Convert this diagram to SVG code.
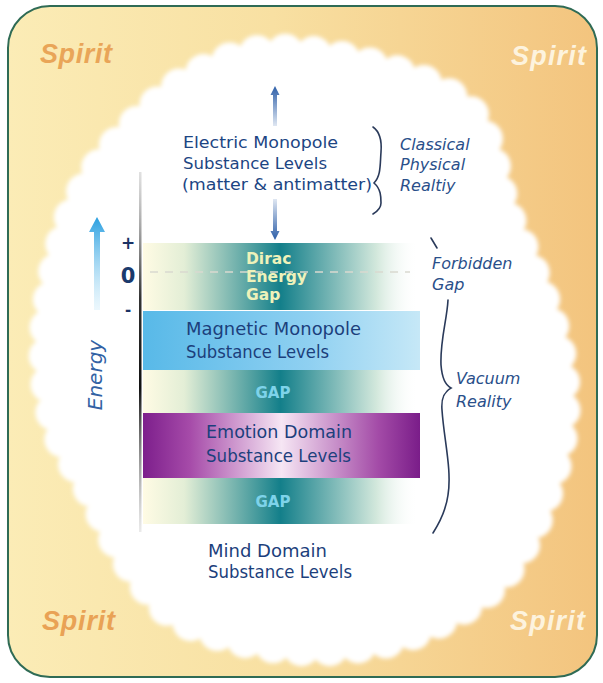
<svg xmlns="http://www.w3.org/2000/svg" width="603" height="683" viewBox="0 0 603 683">
<defs>
<linearGradient id="bg" x1="0" y1="0" x2="1" y2="0">
<stop offset="0" stop-color="#fbecb6"/><stop offset="0.45" stop-color="#f8e0a2"/><stop offset="1" stop-color="#f3c47e"/>
</linearGradient>
<linearGradient id="teal" x1="0" y1="0" x2="1" y2="0">
<stop offset="0" stop-color="#fffbe4"/><stop offset="0.15" stop-color="#e3eed6"/><stop offset="0.5" stop-color="#137f8a"/><stop offset="0.85" stop-color="#d3e8dc"/><stop offset="1" stop-color="#ffffff" stop-opacity="0"/>
</linearGradient>
<linearGradient id="blue" x1="0" y1="0" x2="1" y2="0">
<stop offset="0" stop-color="#58b9e8"/><stop offset="0.6" stop-color="#8fd0f1"/><stop offset="1" stop-color="#c6e8f7"/>
</linearGradient>
<linearGradient id="purple" x1="0" y1="0" x2="1" y2="0">
<stop offset="0" stop-color="#7d1f8c"/><stop offset="0.17" stop-color="#a64ba9"/><stop offset="0.5" stop-color="#f6e6f4"/><stop offset="0.85" stop-color="#a34ba7"/><stop offset="1" stop-color="#7a1d89"/>
</linearGradient>
<linearGradient id="axis" x1="0" y1="0" x2="0" y2="1">
<stop offset="0" stop-color="#9a9a9a" stop-opacity="0.3"/><stop offset="0.35" stop-color="#333"/><stop offset="0.6" stop-color="#111"/><stop offset="1" stop-color="#999" stop-opacity="0.2"/>
</linearGradient>
<linearGradient id="earrow" x1="0" y1="0" x2="0" y2="1">
<stop offset="0" stop-color="#2a9fe0"/><stop offset="1" stop-color="#bfe6f8" stop-opacity="0.3"/>
</linearGradient>
<linearGradient id="upfade" x1="0" y1="0" x2="0" y2="1">
<stop offset="0" stop-color="#2c5ea8"/><stop offset="1" stop-color="#2c5ea8" stop-opacity="0.15"/>
</linearGradient>
<linearGradient id="downfade" x1="0" y1="0" x2="0" y2="1">
<stop offset="0" stop-color="#2c5ea8" stop-opacity="0.15"/><stop offset="1" stop-color="#2c5ea8"/>
</linearGradient>
<filter id="soft" x="-10%" y="-10%" width="120%" height="120%"><feGaussianBlur stdDeviation="2"/></filter>
<style>
.spirit{font-family:"Liberation Sans",Arial,sans-serif;font-weight:bold;font-style:italic;font-size:27px}
.lbl{font-family:"DejaVu Sans",sans-serif;font-size:17px;fill:#1c3f7c}
.el{font-family:"DejaVu Sans",sans-serif;font-size:16px;fill:#1c4583}
.ital{font-family:"DejaVu Sans",sans-serif;font-style:italic;font-size:16px;fill:#2a4f8a}
.gap{font-family:"DejaVu Sans",sans-serif;font-weight:bold;font-size:15px;fill:#7ed3ea;text-anchor:middle}
.brace{fill:none;stroke:#2a3a5a;stroke-width:1.6;stroke-linecap:round}
</style>
</defs>
<g id="background">
<rect x="8" y="6" width="589" height="671" rx="42" fill="url(#bg)" stroke="#2f6b55" stroke-width="2"/>
<g filter="url(#soft)">
<path d="M342,59 Q412,74 444,93 Q476,112 484,136 Q492,160 497,184 Q502,208 513.5,232 Q525,256 534.5,279.5 Q544,303 551.5,327 Q559,351 561.5,375.5 Q564,400 561.5,424 Q559,448 552,472 Q545,496 535,519.5 Q525,543 508.5,566.5 Q492,590 461,608.5 Q430,627 402.5,636 Q375,645 332.5,648 Q290,651 237.5,638.5 Q185,626 166,607 Q147,588 131,564 Q115,540 104,515 Q93,490 76.5,465 Q60,440 54,415 Q48,390 47,365 Q46,340 48.5,317.5 Q51,295 56,272.5 Q61,250 68,228 Q75,206 89.5,182 Q104,158 126,135 Q148,112 170,93.5 Q192,75 232,59.5 Q272,44 342,59 Z" pathLength="62" fill="#ffffff" stroke="#ffffff" stroke-width="36" stroke-dasharray="0 1" stroke-linecap="round"/>
</g>
</g>
<g id="spirit-labels">
<text class="spirit" x="40" y="63" fill="#e9a558" textLength="72">Spirit</text>
<text class="spirit" x="511" y="65" fill="#fdf3de" textLength="75">Spirit</text>
<text class="spirit" x="42" y="630" fill="#e9a255" textLength="73">Spirit</text>
<text class="spirit" x="510" y="630" fill="#fdf3de" textLength="75">Spirit</text>
</g>
<g id="bands">
<g id="dirac-gap"><rect x="143" y="243" width="275" height="67" fill="url(#teal)"/>
<line x1="150" y1="272" x2="410" y2="272" stroke="#d9d9cf" stroke-width="1.5" stroke-dasharray="8 7"/>
<text font-family="DejaVu Sans,sans-serif" font-weight="bold" font-size="15.5" fill="#eef2ba"><tspan x="246" y="264">Dirac</tspan><tspan x="246" y="282">Energy</tspan><tspan x="246" y="300">Gap</tspan></text></g>
<g id="magnetic"><rect x="143" y="311" width="277" height="59" fill="url(#blue)"/>
<text class="lbl" x="186" y="335" textLength="175" lengthAdjust="spacingAndGlyphs">Magnetic Monopole</text>
<text class="lbl" x="186" y="358" textLength="143" lengthAdjust="spacingAndGlyphs">Substance Levels</text></g>
<g id="gap1"><rect x="143" y="370" width="275" height="43" fill="url(#teal)"/><text class="gap" x="273" y="398">GAP</text></g>
<g id="emotion"><rect x="143" y="413" width="277" height="65" fill="url(#purple)"/>
<text class="lbl" x="206" y="438" textLength="146" lengthAdjust="spacingAndGlyphs">Emotion Domain</text>
<text class="lbl" x="206" y="462" textLength="145" lengthAdjust="spacingAndGlyphs">Substance Levels</text></g>
<g id="gap2"><rect x="143" y="478" width="275" height="46" fill="url(#teal)"/><text class="gap" x="273" y="507">GAP</text></g>
<g id="mind">
<text class="lbl" x="208" y="557" textLength="119" lengthAdjust="spacingAndGlyphs">Mind Domain</text>
<text class="lbl" x="208" y="578" textLength="144" lengthAdjust="spacingAndGlyphs">Substance Levels</text></g>
<g id="electric">
<text class="el" x="183" y="148" textLength="155" lengthAdjust="spacingAndGlyphs">Electric Monopole</text>
<text class="el" x="183" y="169" textLength="144" lengthAdjust="spacingAndGlyphs">Substance Levels</text>
<text class="el" x="182" y="190" textLength="190" lengthAdjust="spacingAndGlyphs">(matter &amp; antimatter)</text></g>
</g>
<g id="axis">
<rect x="139" y="172" width="2.5" height="360" fill="url(#axis)"/>
<path d="M94,310 L94,232 L89,232 L97,217 L105,232 L100,232 L100,310 Z" fill="url(#earrow)"/>
<text transform="translate(102,375) rotate(-90)" font-family="DejaVu Sans,sans-serif" font-style="italic" font-size="20" fill="#3262a4" text-anchor="middle">Energy</text>
<text x="128" y="249" font-family="DejaVu Sans,sans-serif" font-weight="bold" font-size="17" fill="#1a3264" text-anchor="middle">+</text>
<text x="128" y="283" font-family="DejaVu Sans,sans-serif" font-weight="bold" font-size="21" fill="#1a3a6c" text-anchor="middle">0</text>
<text x="128" y="315" font-family="DejaVu Sans,sans-serif" font-weight="bold" font-size="15" fill="#1a3264" text-anchor="middle">-</text>
</g>
<g id="connectors">
<path d="M273,126 L273,95 L270.5,95 L275,86 L279.5,95 L277,95 L277,126 Z" fill="url(#upfade)"/>
<path d="M273,199 L273,231 L270.5,231 L275,240 L279.5,231 L277,231 L277,199 Z" fill="url(#downfade)"/>
<path class="brace" d="M373,127 C380,132 382,140 381,152 C380,165 381,176 374,183 C381,189 381,197 381,203 C381,208 378,211 373,214"/>
<path class="brace" d="M431,238 L437,248"/>
<path class="brace" d="M448,300 C447,320 440,340 441,365 C442,378 445,385 451,388 C444,392 441,398 442,410 C444,440 452,470 448,495 C446,510 440,522 433,533"/>
</g>
<g id="right-labels">
<text class="ital"><tspan x="400" y="150">Classical</tspan><tspan x="400" y="170">Physical</tspan><tspan x="400" y="191">Realtiy</tspan></text>
<text class="ital"><tspan x="432" y="269">Forbidden</tspan><tspan x="432" y="290">Gap</tspan></text>
<text class="ital"><tspan x="456" y="384">Vacuum</tspan><tspan x="456" y="407">Reality</tspan></text>
</g>
</svg>
